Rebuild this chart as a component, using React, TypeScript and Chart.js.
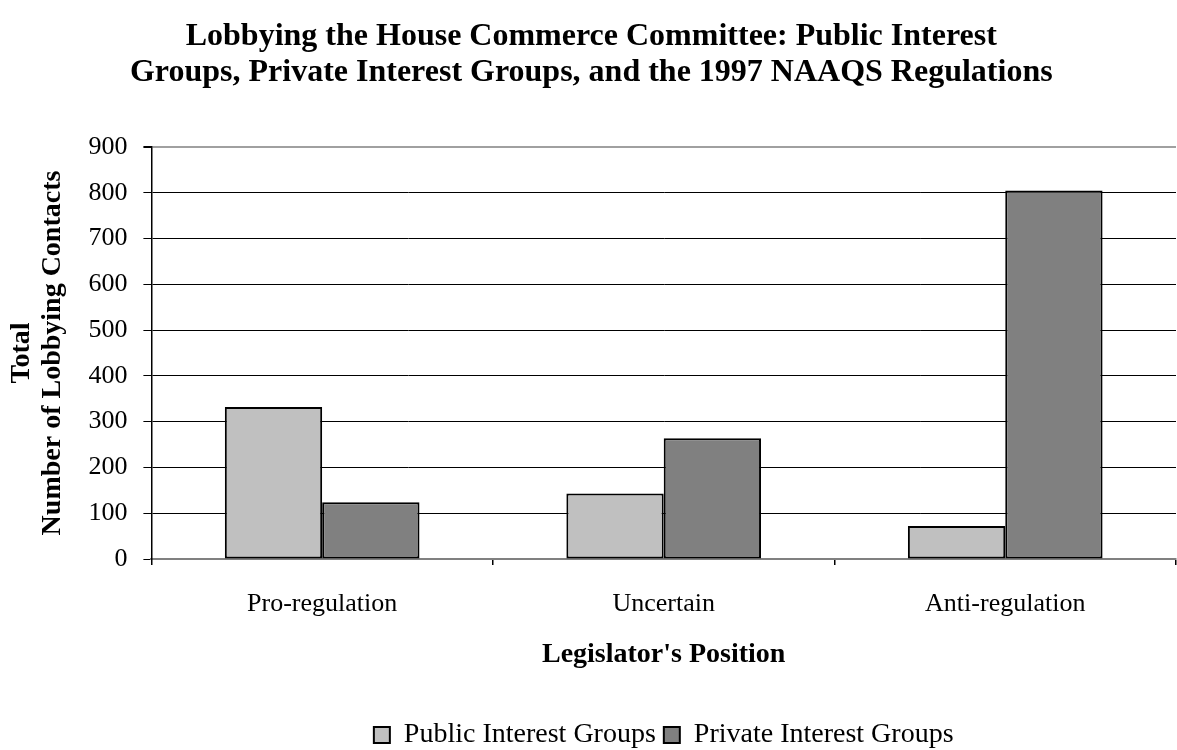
import React, { useEffect, useRef } from "react";
import { Chart, registerables } from "chart.js";

Chart.register(...registerables);

const categories = ["Pro-regulation", "Uncertain", "Anti-regulation"];
const publicInterest = [332, 143, 72];
const privateInterest = [124, 264, 805];
const seriesNames = ["Public Interest Groups", "Private Interest Groups"];
const titleLines = [
  "Lobbying the House Commerce Committee: Public Interest",
  "Groups, Private Interest Groups, and the 1997 NAAQS Regulations",
];
const yTitleLines = ["Total", "Number of Lobbying Contacts"];
const xTitle = "Legislator's Position";

const FONT = "'Liberation Serif', 'Times New Roman', serif";

export default function App() {
  const ref = useRef<HTMLCanvasElement | null>(null);
  useEffect(() => {
    document.body.style.margin = "0";
    document.body.style.overflow = "hidden";
    const canvas = ref.current;
    if (!canvas) return;
    const chart = new Chart(canvas, {
      type: "bar",
      data: {
        labels: categories,
        datasets: [
          {
            label: seriesNames[0],
            data: publicInterest,
            backgroundColor: "#C0C0C0",
            borderColor: "#000000",
            borderWidth: 2,
            borderSkipped: false,
          },
          {
            label: seriesNames[1],
            data: privateInterest,
            backgroundColor: "#808080",
            borderColor: "#000000",
            borderWidth: 2,
            borderSkipped: false,
          },
        ],
      },
      options: {
        animation: false,
        responsive: false,
        maintainAspectRatio: false,
        layout: { padding: { left: 6.6, right: 1, top: 0, bottom: 0 } },
        datasets: {
          bar: { categoryPercentage: 0.57, barPercentage: 1 },
        },
        plugins: {
          title: {
            display: true,
            text: titleLines,
            color: "#000",
            font: { family: FONT, size: 32, weight: "bold", lineHeight: 1.125 },
            padding: { top: 19, bottom: 56 },
          },
          legend: {
            position: "bottom",
            fullSize: false,
            labels: {
              color: "#000",
              font: { family: FONT, size: 28 },
              boxWidth: 16,
              boxHeight: 16,
              padding: 8,
            },
          },
          tooltip: { enabled: false },
        },
        scales: {
          x: {
            grid: {
              offset: true,
              drawOnChartArea: true,
              color: (ctx: any) => (ctx.index === 3 ? "#a0a0a0" : "rgba(0,0,0,0)"),
              tickColor: "#000",
              tickLength: 6,
              lineWidth: 1.5,
            },
            border: { color: "#808080", width: 2 },
            ticks: {
              color: "#000",
              font: { family: FONT, size: 26 },
              padding: 23.4,
            },
            title: {
              display: true,
              text: xTitle,
              color: "#000",
              font: { family: FONT, size: 28, weight: "bold", lineHeight: 1.2 },
              padding: { top: -4.8, bottom: 41.2 },
            },
          },
          y: {
            min: 0,
            max: 900,
            ticks: {
              stepSize: 100,
              color: "#000",
              font: { family: FONT, size: 26 },
              padding: 16,
            },
            grid: {
              color: (ctx: any) => (ctx.tick && ctx.tick.value === 900 ? "#a0a0a0" : "#000"),
              lineWidth: (ctx: any) => (ctx.tick && ctx.tick.value === 900 ? 2 : 1),
              tickColor: "#000",
              tickLength: 8,
            },
            border: { color: "#000", width: 1.5 },
            title: {
              display: true,
              text: yTitleLines,
              color: "#000",
              font: { family: FONT, size: 28, weight: "bold", lineHeight: 1.1 },
              padding: { top: 0, bottom: 4.2 },
            },
          },
        },
      },
    });
    return () => chart.destroy();
  }, []);
  return (
    <div style={{ width: 1177, height: 750, overflow: "hidden", background: "#fff" }}>
      <canvas ref={ref} width={1177} height={759} style={{ display: "block" }} />
    </div>
  );
}
